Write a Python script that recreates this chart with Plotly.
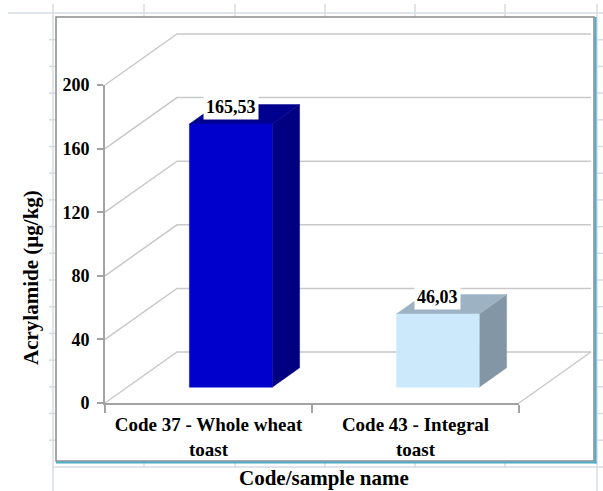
import plotly.graph_objects as go

# ---- data -------------------------------------------------------------
categories = ["Code 37 - Whole wheat<br>toast", "Code 43 - Integral<br>toast"]
acrylamide = [165.53, 46.03]          # µg/kg
y_ticks = [0, 40, 80, 120, 160, 200]
y_title = "Acrylamide (µg/kg)"
x_title = "Code/sample name"

front_colors = ["#0000CC", "#CCE9FB"]
side_colors = ["#000080", "#8396A5"]
top_colors = ["#00008E", "#9DB3C4"]

# ---- geometry of the pseudo-3D box ------------------------------------
W, H = 603, 491
PX_L, PX_R = 105, 519      # front floor edge (px)
PX_0, PX_TOP = 403, 85     # value 0 and value 200 on the front axis (px)
Y_MAX = y_ticks[-1]
N = len(categories)
ux = (PX_R - PX_L) / N     # px per category unit
vy = (PX_0 - PX_TOP) / Y_MAX  # px per value unit

DEPTH_X, DEPTH_Y = 72, 51  # oblique depth of walls/floor (px)
DU = DEPTH_X / ux
DV = DEPTH_Y / vy
BAR_W = 0.40               # bar width as a fraction of a category
D0, D1 = 0.31, 0.69        # bar depth span as fractions of the floor depth

x_range = [-PX_L / ux, (W - PX_L) / ux]
y_range = [-(H - PX_0) / vy, PX_0 / vy]

FONT = "Liberation Serif, Times New Roman, serif"
GRID = "#c9c9c9"
AXIS = "#a3a3a3"
SHEET = "#d6dce6"

fig = go.Figure()

# wall / floor gridlines
gx, gy = [], []
for v in y_ticks:
    gx += [0, DU, N + DU, None]
    gy += [v, v + DV, v + DV, None]
gx += [N, N + DU, None]
gy += [0, DV, None]
fig.add_trace(go.Scatter(x=gx, y=gy, mode="lines",
                         line=dict(color=GRID, width=1.5),
                         hoverinfo="skip", showlegend=False))

# bars: side, top, front faces
for i, v in enumerate(acrylamide):
    cx = i + 0.5
    x0 = cx - BAR_W / 2 + D0 * DU
    x1 = cx + BAR_W / 2 + D0 * DU
    b0 = D0 * DV
    t0 = v + D0 * DV
    dx = (D1 - D0) * DU
    dy = (D1 - D0) * DV
    faces = [
        ([x1, x1 + dx, x1 + dx, x1, x1], [b0, b0 + dy, t0 + dy, t0, b0], side_colors[i]),
        ([x0, x1, x1 + dx, x0 + dx, x0], [t0, t0, t0 + dy, t0 + dy, t0], top_colors[i]),
        ([x0, x1, x1, x0, x0], [b0, b0, t0, t0, b0], front_colors[i]),
    ]
    for fx, fy, col in faces:
        fig.add_trace(go.Scatter(x=fx, y=fy, mode="lines", fill="toself",
                                 fillcolor=col, line=dict(color=col, width=0.5),
                                 hoverinfo="skip", showlegend=False))
    fig.add_annotation(x=cx + D0 * DU, y=v + 0.64 * DV, xref="x", yref="y",
                       xanchor="center", yanchor="middle",
                       text=f"{v:.2f}".replace(".", ","), showarrow=False,
                       bgcolor="white", borderpad=2,
                       font=dict(family=FONT, size=18, color="black", weight="bold"))

# front axes (category / value)
fig.add_trace(go.Scatter(x=[None], y=[None], xaxis="x2", yaxis="y2",
                         hoverinfo="skip", showlegend=False))

tick_font = dict(family=FONT, size=18, color="black", weight="bold")
cat_font = dict(family=FONT, size=19, color="black", weight="bold")
fig.update_layout(
    template="none",
    width=W, height=H, autosize=False,
    margin=dict(l=0, r=0, t=0, b=0, pad=0, autoexpand=False),
    paper_bgcolor="white", plot_bgcolor="rgba(0,0,0,0)",
    xaxis=dict(domain=[0, 1], range=x_range, visible=False, fixedrange=True,
               automargin=False),
    yaxis=dict(domain=[0, 1], range=y_range, visible=False, fixedrange=True,
               automargin=False),
    xaxis2=dict(domain=[PX_L / W, PX_R / W], range=[0, N], anchor="y2",
                automargin=False, fixedrange=True,
                showline=True, linecolor=AXIS, linewidth=2,
                showgrid=False, zeroline=False,
                tickmode="array", tickvals=[i + 0.5 for i in range(N)],
                ticktext=categories, ticks="", ticklabelstandoff=3,
                minor=dict(tickmode="array", tickvals=list(range(N + 1)),
                           ticks="outside", ticklen=8, tickcolor=AXIS, tickwidth=1.5,
                           showgrid=False),
                tickfont=cat_font),
    yaxis2=dict(domain=[1 - PX_0 / H, 1 - PX_TOP / H], range=[0, Y_MAX], anchor="x2",
                automargin=False, fixedrange=True,
                showline=True, linecolor=AXIS, linewidth=2,
                showgrid=False, zeroline=False,
                tickmode="array", tickvals=y_ticks,
                ticks="outside", ticklen=6, tickcolor=AXIS, tickwidth=1.5,
                ticklabelstandoff=4, tickfont=tick_font),
)

# axis titles
fig.add_annotation(x=31 / W, y=1 - 278 / H, xref="paper", yref="paper",
                   xanchor="center", yanchor="middle",
                   text=y_title, textangle=-90, showarrow=False,
                   font=dict(family=FONT, size=21, color="black", weight="bold"))
fig.add_annotation(x=324 / W, y=1 - 478 / H, xref="paper", yref="paper",
                   xanchor="center", yanchor="middle",
                   text=x_title, showarrow=False,
                   font=dict(family=FONT, size=21, color="black", weight="bold"))


def px_line(x0, y0, x1, y1, color, width):
    fig.add_shape(type="line", xref="paper", yref="paper",
                  x0=x0 / W, y0=1 - y0 / H, x1=x1 / W, y1=1 - y1 / H,
                  line=dict(color=color, width=width), layer="below")


# worksheet cell grid around the chart object
rows = [13 + 26.7 * k for k in range(19)]
cols = [53, 144, 235, 325, 415, 505, 597]
px_line(8, 13, W, 13, SHEET, 1.5)
px_line(53, 467, W, 467, SHEET, 1.5)
px_line(53, 4, 53, H, SHEET, 1.5)
px_line(597, 4, 597, H, SHEET, 1.5)
for c in cols[1:-1]:
    px_line(c, 4, c, 17, SHEET, 1.5)
    px_line(c, 462, c, 468, SHEET, 1.5)
for r in rows[1:17]:
    px_line(49, r, 56, r, SHEET, 1.5)
    px_line(596, r, W, r, SHEET, 1.5)

# chart frame
fig.add_shape(type="rect", xref="paper", yref="paper",
              x0=56 / W, y0=1 - 461 / H, x1=594 / W, y1=1 - 17 / H,
              line=dict(color="#8a8a8a", width=1.5), layer="below")
px_line(595.5, 17, 595.5, 463.5, "#4BACC6", 2)
px_line(56, 462.5, 596.5, 462.5, "#4BACC6", 2)

fig.write_html("out.html")
